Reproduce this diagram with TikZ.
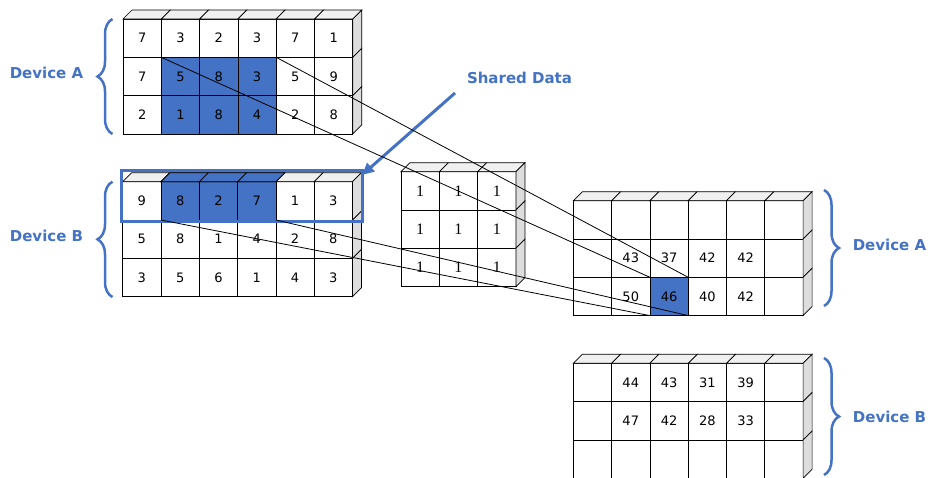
\documentclass[tikz,border=0pt]{standalone}
\usepackage{fontspec}
\newfontfamily\verdfont{DejaVu Sans}
\newfontfamily\kerfont{Liberation Serif}
\usetikzlibrary{arrows.meta,decorations.pathreplacing,backgrounds,fit}
\definecolor{devblue}{HTML}{4472C4}
\definecolor{topgray}{HTML}{F0F0F0}
\definecolor{sidegray}{HTML}{DDDDDD}
\newcommand{\cellw}{38.3}
\newcommand{\topface}[2]{\filldraw[#1] (#2.north west) -- ++(9pt,9pt) -- ([shift={(9pt,9pt)}]#2.north east) -- (#2.north east) -- cycle;}
\newcommand{\sideface}[2]{\filldraw[#1] (#2.north east) -- ++(9pt,9pt) -- ([shift={(9pt,9pt)}]#2.south east) -- (#2.south east) -- cycle;}
% [cell options]{name}{left}{top}{columns}{rows}
\newcommand{\cellgrid}[6][]{%
  \foreach \row [count=\i] in {#6}{
    \foreach \v [count=\j] in \row {
      \node[cell,#1] (#2-\i-\j) at ({#3+\cellw*(\j-0.5)},{#4+\cellw*(\i-0.5)}) {\v};
      \ifnum\i=1 \topface{face,fill=topgray}{#2-\i-\j}\fi
      \ifnum\j=#5 \sideface{face,fill=sidegray}{#2-\i-\j}\fi
    }
  }
}

\begin{document}
\begin{tikzpicture}[x=1pt,y=-1pt,
    cell/.style={draw,line width=0.7pt,minimum size=\cellw pt,inner sep=0pt,outer sep=0pt,
      font=\verdfont\fontsize{13}{15}\selectfont},
    face/.style={draw=black,line width=0.7pt},
    hl/.style={fill=devblue},
    link/.style={line width=0.8pt},
    devbrace/.style={draw=devblue,line width=2.5pt,decorate,decoration={brace,amplitude=15pt}},
    devlabel/.style={text=devblue,font=\verdfont\bfseries\fontsize{15}{18}\selectfont},
    sharebox/.style={draw=devblue,line width=3pt,inner sep=0pt,outer sep=0pt},
    sharearrow/.style={draw=devblue,line width=3pt,-{Triangle[length=12pt,width=11pt]}}]
    \useasboundingbox (0,0) rectangle (928,477);

    % input tiles
    \cellgrid{inA}{123}{19}{6}{{7,3,2,3,7,1},{7,5,8,3,5,9},{2,1,8,4,2,8}}
    \cellgrid{inB}{122.7}{181.7}{6}{{9,8,2,7,1,3},{5,8,1,4,2,8},{3,5,6,1,4,3}}
    % kernel
    \cellgrid[font=\kerfont\fontsize{16}{18}\selectfont]{ker}{401}{171.7}{3}{{1,1,1},{1,1,1},{1,1,1}}
    % output tiles
    \cellgrid{outA}{573.3}{200.7}{6}{{{},{},{},{},{},{}},{{},43,37,42,42,{}},{{},50,46,40,42,{}}}
    \cellgrid{outB}{573.3}{363.3}{6}{{{},44,43,31,39,{}},{{},47,42,28,33,{}},{{},{},{},{},{},{}}}

    \begin{pgfonlayer}{background}
        \fill[hl] (inA-2-2.north west) rectangle (inA-3-4.south east);
        \fill[hl] (inB-1-2.north west) rectangle (inB-1-4.south east);
        \fill[hl] (outA-3-3.north west) rectangle (outA-3-3.south east);
    \end{pgfonlayer}
    \foreach \j in {2,3,4}{\topface{face,fill=devblue}{inB-1-\j}}

    % shared row
    \node[sharebox,fit={([shift={(-1.7pt,11.2pt)}]inB-1-1.north west) ([shift={(9.5pt,-1pt)}]inB-1-6.south east)}] (sharebox) {};
    \node[devlabel] (sharelbl) at (519.5,77.5) {Shared Data};
    \coordinate (arrowstart) at (455,93);
    \draw[sharearrow] (arrowstart) -- ([shift={(0pt,-4.5pt)}]sharebox.north east);

    % devices
    \draw[devbrace] (112.5,134) -- (112.5,19);
    \draw[devbrace] (112.5,297) -- (112.5,181.7);
    \draw[devbrace] (824,190) -- (824,306);
    \draw[devbrace] (824,358) -- (824,475);
    \node[devlabel] (devAl) at (46.5,72.5) {Device A};
    \node[devlabel] (devBl) at (46.5,236) {Device B};
    \node[devlabel] (devAr) at (889.5,245) {Device A};
    \node[devlabel] (devBr) at (889.5,417.3) {Device B};

    % receptive field
    \draw[link] (inA-2-2.north west) -- (outA-3-3.north west);
    \draw[link] (inA-2-4.north east) -- (outA-3-3.north east);
    \draw[link] (inB-2-2.north west) -- (outA-3-3.south west);
    \draw[link] (inB-2-4.north east) -- (outA-3-3.south east);
\end{tikzpicture}
\end{document}
